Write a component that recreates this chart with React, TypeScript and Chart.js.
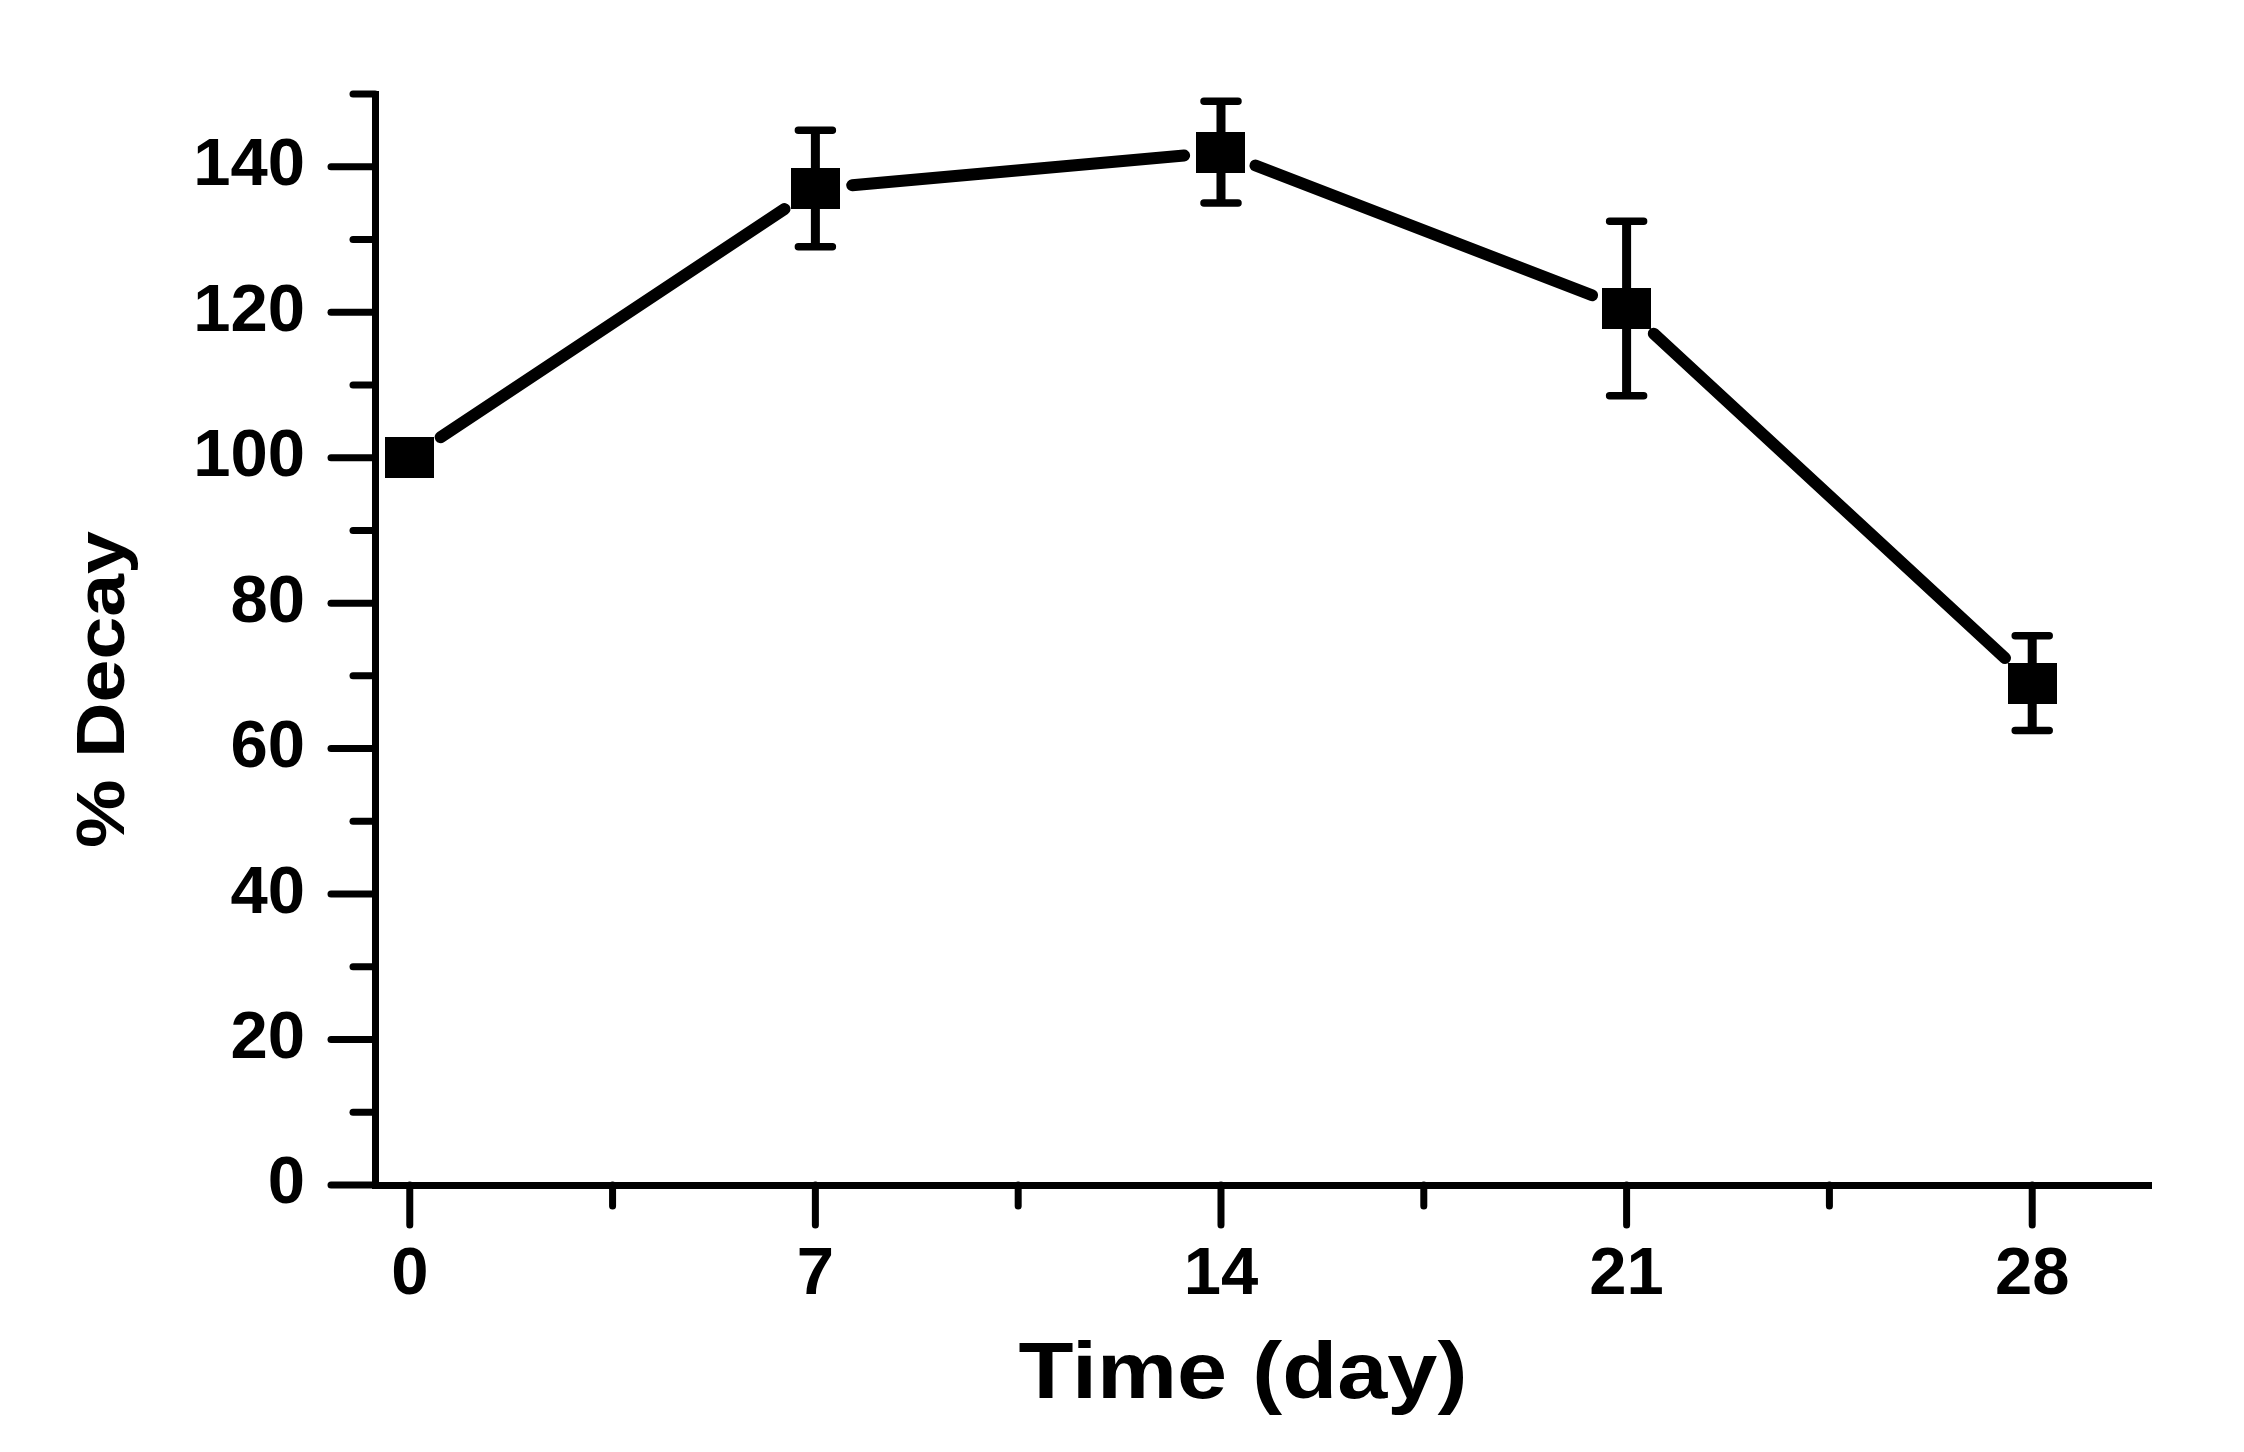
import React, { useEffect, useRef } from 'react';
import { Chart, registerables } from 'chart.js';

Chart.register(...registerables);

// ---- data ----
const days = [0, 7, 14, 21, 28];
const decay = [100, 137, 142, 120.5, 69];
const errors = [0, 8, 7, 12, 6.5];
const xTickValues = [0, 3.5, 7, 10.5, 14, 17.5, 21, 24.5, 28];
const xLabelValues = [0, 7, 14, 21, 28];
const yLabelStep = 20;
const xTitle = 'Time (day)';
const yTitle = '% Decay';

const FONT = '"Liberation Sans", Arial, Helvetica, sans-serif';

function makeMarker(): HTMLCanvasElement {
  const c = document.createElement('canvas');
  c.width = 49;
  c.height = 41;
  const g = c.getContext('2d')!;
  g.fillStyle = '#000';
  g.fillRect(0, 0, 49, 41);
  return c;
}

const drawPlugin = {
  id: 'customDraw',
  beforeDatasetsDraw(chart: any) {
    const ctx = chart.ctx;
    const pts = chart.getDatasetMeta(0).data;
    ctx.save();
    ctx.strokeStyle = '#000';
    ctx.lineWidth = 12;
    ctx.lineCap = 'round';
    const gap = 37;
    for (let i = 0; i < pts.length - 1; i++) {
      const a = pts[i];
      const b = pts[i + 1];
      const dx = b.x - a.x;
      const dy = b.y - a.y;
      const len = Math.hypot(dx, dy);
      const ux = dx / len;
      const uy = dy / len;
      ctx.beginPath();
      ctx.moveTo(a.x + ux * gap, a.y + uy * gap);
      ctx.lineTo(b.x - ux * gap, b.y - uy * gap);
      ctx.stroke();
    }
    ctx.restore();
  },
  afterDatasetsDraw(chart: any) {
    const ctx = chart.ctx;
    const xs = chart.scales.x;
    const ys = chart.scales.y;
    ctx.save();
    ctx.strokeStyle = '#000';
    ctx.lineCap = 'round';
    const capHalf = 17;
    days.forEach((d, i) => {
      const e = errors[i];
      if (!e) return;
      const x = xs.getPixelForValue(d);
      const yt = ys.getPixelForValue(decay[i] + e);
      const yb = ys.getPixelForValue(decay[i] - e);
      ctx.lineWidth = 9;
      ctx.lineCap = 'butt';
      ctx.beginPath();
      ctx.moveTo(x, yt);
      ctx.lineTo(x, yb);
      ctx.stroke();
      ctx.lineWidth = 7.5;
      ctx.lineCap = 'round';
      ctx.beginPath();
      ctx.moveTo(x - capHalf, yt);
      ctx.lineTo(x + capHalf, yt);
      ctx.moveTo(x - capHalf, yb);
      ctx.lineTo(x + capHalf, yb);
      ctx.stroke();
    });
    ctx.restore();
  },
  afterDraw(chart: any) {
    const ctx = chart.ctx;
    const area = chart.chartArea;
    const xs = chart.scales.x;
    const ys = chart.scales.y;
    ctx.save();
    ctx.strokeStyle = '#000';
    ctx.lineWidth = 7;
    ctx.lineCap = 'round';
    // x ticks
    xs.ticks.forEach((t: any) => {
      const px = xs.getPixelForValue(t.value);
      const major = xLabelValues.includes(t.value);
      const len = major ? 40 : 21;
      ctx.beginPath();
      ctx.moveTo(px, area.bottom);
      ctx.lineTo(px, area.bottom + len);
      ctx.stroke();
    });
    // y ticks
    ys.ticks.forEach((t: any) => {
      const py = ys.getPixelForValue(t.value);
      const major = t.value % yLabelStep === 0;
      const len = major ? 44 : 22;
      ctx.beginPath();
      ctx.moveTo(area.left, py);
      ctx.lineTo(area.left - len, py);
      ctx.stroke();
    });
    ctx.restore();

    // titles
    ctx.save();
    ctx.fillStyle = '#000';
    ctx.font = `bold 79px ${FONT}`;
    ctx.textAlign = 'center';
    ctx.textBaseline = 'alphabetic';
    ctx.translate((area.left + area.right) / 2 - 20, 1398);
    ctx.scale(1.14, 1);
    ctx.fillText(xTitle, 0, 0);
    ctx.restore();

    ctx.save();
    ctx.fillStyle = '#000';
    ctx.font = `bold 77px ${FONT}`;
    ctx.textAlign = 'center';
    ctx.textBaseline = 'alphabetic';
    ctx.translate(124, (area.top + area.bottom) / 2 + 50);
    ctx.rotate(-Math.PI / 2);
    ctx.scale(1, 0.9);
    ctx.fillText(yTitle, 0, 0);
    ctx.restore();
  },
};

export default function App() {
  const ref = useRef<HTMLCanvasElement | null>(null);
  useEffect(() => {
    document.body.style.margin = '0';
    const canvas = ref.current;
    if (!canvas) return;
    const marker = makeMarker();
    const tickFont = { family: FONT, size: 67, weight: 'bold' as const };
    const chart = new Chart(canvas, {
      type: 'line',
      data: {
        datasets: [
          {
            label: '% Decay',
            data: days.map((d, i) => ({ x: d, y: decay[i] })),
            showLine: false,
            pointStyle: marker as any,
            pointRadius: 25,
            pointHoverRadius: 25,
            pointBackgroundColor: '#000',
            pointBorderColor: '#000',
            pointBorderWidth: 0,
            borderColor: '#000',
            backgroundColor: '#000',
            clip: false as any,
          },
        ],
      },
      options: {
        responsive: false,
        maintainAspectRatio: false,
        devicePixelRatio: 1,
        animation: false,
        events: [],
        layout: { padding: { top: 94, right: 93, left: 0, bottom: 0 } },
        plugins: {
          legend: { display: false },
          tooltip: { enabled: false },
          title: { display: false },
        },
        scales: {
          x: {
            type: 'linear',
            min: -0.6,
            max: 30.05,
            afterBuildTicks: (scale: any) => {
              scale.ticks = xTickValues.map((v) => ({ value: v }));
            },
            afterFit: (scale: any) => {
              scale.height = 267;
            },
            grid: {
              display: true,
              drawOnChartArea: false,
              drawTicks: true,
              tickLength: 40,
              color: 'transparent',
            },
            border: { display: true, color: '#000', width: 7 },
            ticks: {
              autoSkip: false,
              maxRotation: 0,
              padding: 10,
              color: '#000',
              font: tickFont,
              callback: (v: any) => (xLabelValues.includes(Number(v)) ? String(v) : ''),
            },
          },
          y: {
            type: 'linear',
            min: 0,
            max: 150,
            afterFit: (scale: any) => {
              scale.width = 375;
            },
            grid: {
              display: true,
              drawOnChartArea: false,
              drawTicks: true,
              tickLength: 45,
              color: 'transparent',
            },
            border: { display: true, color: '#000', width: 7 },
            ticks: {
              stepSize: 10,
              autoSkip: false,
              padding: 25,
              color: '#000',
              font: tickFont,
              callback: (v: any) => (Number(v) % yLabelStep === 0 ? String(v) : ''),
            },
          },
        },
      },
      plugins: [drawPlugin],
    });
    return () => chart.destroy();
  }, []);
  return <canvas ref={ref} width={2244} height={1452} style={{ display: 'block', width: 2244, height: 1452 }} />;
}
